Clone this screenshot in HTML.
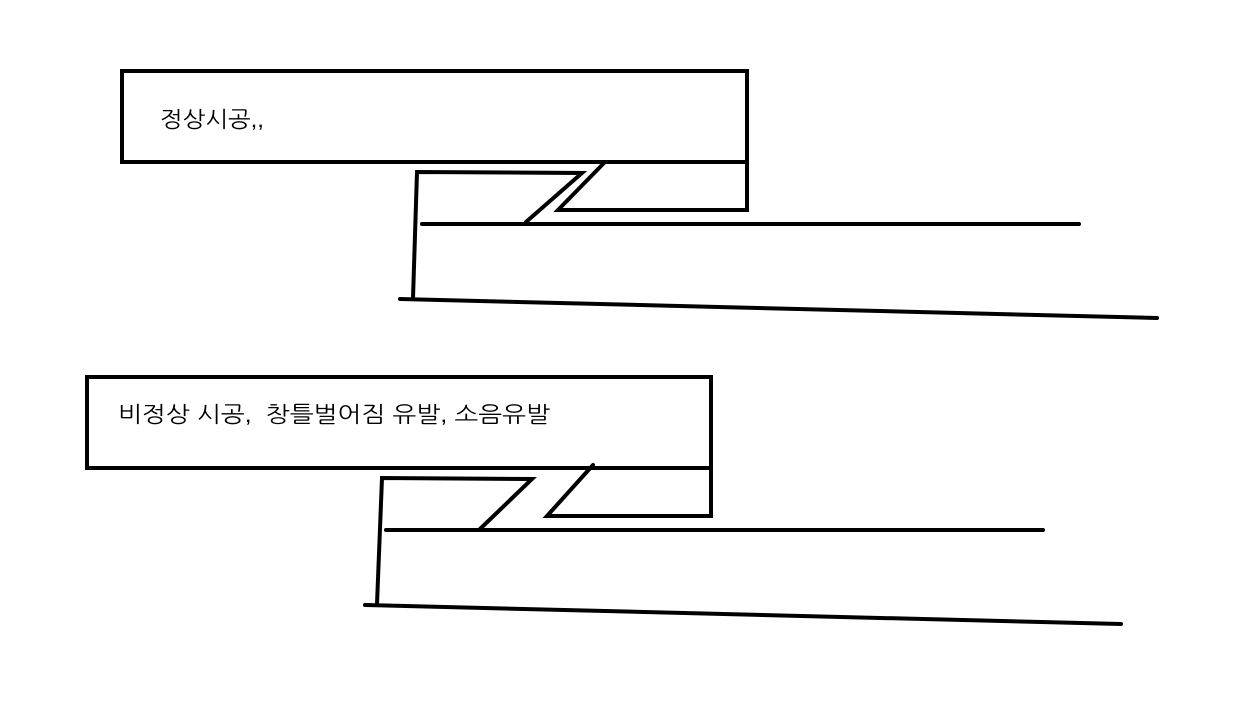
<!DOCTYPE html>
<html><head><meta charset="utf-8"><style>html,body{margin:0;padding:0;background:#fff;}svg{display:block}</style></head>
<body>
<svg width="1247" height="706" viewBox="0 0 1247 706" xmlns="http://www.w3.org/2000/svg">
<g stroke="#000" stroke-width="4" fill="none" stroke-linecap="round">
<rect x="122" y="71" width="625" height="91" stroke-linecap="butt"/>
<polyline points="747,162 747,210 558,210 604,163"/>
<polyline points="413,298 417,172 582,173 526,222"/>
<line x1="422" y1="224" x2="1079" y2="224"/>
<line x1="400" y1="299" x2="1157" y2="318"/>
<rect x="87" y="377" width="624" height="91" stroke-linecap="butt"/>
<polyline points="711,468 711,516 547,516 593,465"/>
<polyline points="377,604 382,478 532,479 480,529"/>
<line x1="386" y1="530" x2="1043" y2="530"/>
<line x1="365" y1="605" x2="1121" y2="624"/>
</g>
<g font-family="'Liberation Sans','NanumGothic','Noto Sans CJK KR',sans-serif" font-size="22" fill="#000">
<text x="160" y="127" textLength="104" lengthAdjust="spacingAndGlyphs">정상시공,,</text>
<text x="118" y="422" textLength="432" lengthAdjust="spacingAndGlyphs" xml:space="preserve">비정상 시공,  창틀벌어짐 유발, 소음유발</text>
</g>
</svg>
</body></html>
